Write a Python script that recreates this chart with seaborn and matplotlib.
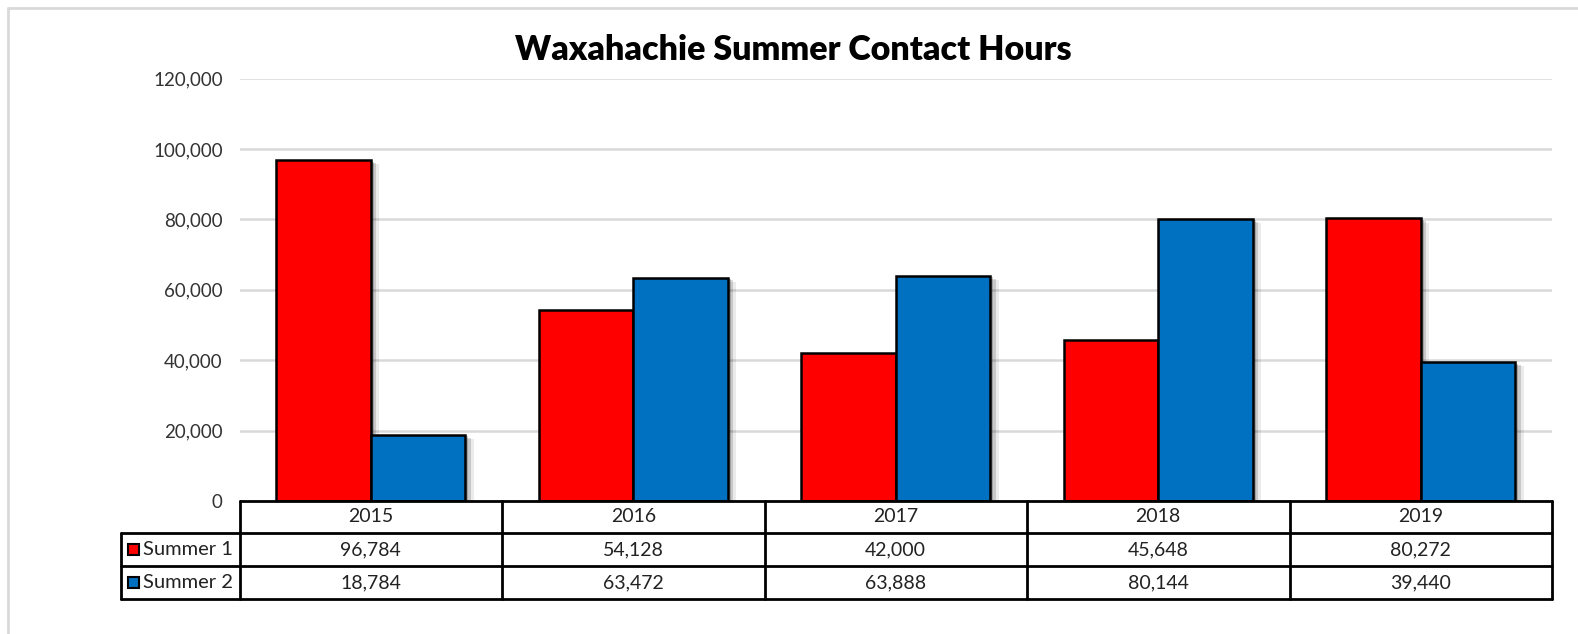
import matplotlib
matplotlib.use("Agg")
import matplotlib.pyplot as plt
import matplotlib.patheffects as pe
from matplotlib.patches import Rectangle
from matplotlib.lines import Line2D
import seaborn as sns
import pandas as pd

years = ["2015", "2016", "2017", "2018", "2019"]
series_names = ["Summer 1", "Summer 2"]
summer1 = [96784, 54128, 42000, 45648, 80272]
summer2 = [18784, 63472, 63888, 80144, 39440]
colors = ["#FF0000", "#0070C0"]
yticks = [0, 20000, 40000, 60000, 80000, 100000, 120000]

sns.set_theme(style="white")
plt.rcParams["font.family"] = ["Lato", "DejaVu Sans"]

W, H = 1578, 634
fig = plt.figure(figsize=(W / 100, H / 100), dpi=100)

def fx(x):
    return x / W

def fy(y):
    return 1 - y / H

# outer light border (top and left visible)
fig.add_artist(Line2D([fx(8), 1], [fy(8), fy(8)], color="#D9D9D9", lw=2, transform=fig.transFigure))
fig.add_artist(Line2D([fx(8), fx(8)], [fy(8), 0], color="#D9D9D9", lw=2, transform=fig.transFigure))

left, right, top, bottom = 239.5, 1552, 78.5, 501
ax = fig.add_axes([fx(left), fy(bottom), fx(right - left), fy(top) - fy(bottom)])

df = pd.DataFrame({
    "Year": years * 2,
    "Series": [series_names[0]] * len(years) + [series_names[1]] * len(years),
    "Hours": summer1 + summer2,
})
sns.barplot(data=df, x="Year", y="Hours", hue="Series", palette=colors,
            width=0.72, edgecolor="black", linewidth=1.8, ax=ax, legend=False,
            saturation=1, zorder=3)
for p in ax.patches:
    p.set_path_effects([
        pe.SimplePatchShadow(offset=(6, -3), shadow_rgbFace="#000000", alpha=0.08),
        pe.SimplePatchShadow(offset=(4, -2), shadow_rgbFace="#000000", alpha=0.15),
        pe.SimplePatchShadow(offset=(2, -1), shadow_rgbFace="#000000", alpha=0.2),
        pe.Normal()])

ax.set_ylim(0, 120000)
ax.set_xlim(-0.5, len(years) - 0.5)
ax.set_yticks(yticks)
ax.set_yticklabels([f"{v:,}" for v in yticks], fontsize=13.5, color="#333333")
ax.tick_params(axis="y", length=0, pad=12)
ax.set_xticks([])
ax.set_xlabel("")
ax.set_ylabel("")
ax.yaxis.grid(True, color="#D9D9D9", lw=1.8, zorder=0)
ax.set_axisbelow(True)
for s in ax.spines.values():
    s.set_visible(False)

fig.text(fx(793), fy(50), "Waxahachie Summer Contact Hours", ha="center", va="center",
         fontsize=24.5, fontweight="heavy", color="black")

# data table
tab_left = 121
row_y = [501, 533, 566, 599]
colw = (right - left) / len(years)
lw = 2
def hline(x0, x1, y):
    fig.add_artist(Line2D([fx(x0), fx(x1)], [fy(y), fy(y)], color="black", lw=lw, transform=fig.transFigure))
def vline(x, y0, y1):
    fig.add_artist(Line2D([fx(x), fx(x)], [fy(y0), fy(y1)], color="black", lw=lw, transform=fig.transFigure))

hline(left, right, row_y[0])
for y in row_y[1:]:
    hline(tab_left, right, y)
vline(tab_left, row_y[1], row_y[3])
for i in range(len(years) + 1):
    vline(left + i * colw, row_y[0], row_y[3])

for i, yr in enumerate(years):
    cx = left + (i + 0.5) * colw
    fig.text(fx(cx), fy((row_y[0] + row_y[1]) / 2), yr, ha="center", va="center", fontsize=14, color="#222222")
    for r, vals in enumerate([summer1, summer2]):
        fig.text(fx(cx), fy((row_y[r + 1] + row_y[r + 2]) / 2), f"{vals[i]:,}",
                 ha="center", va="center", fontsize=14, color="#222222")

for r, (name, c) in enumerate(zip(series_names, colors)):
    yc = (row_y[r + 1] + row_y[r + 2]) / 2
    fig.add_artist(Rectangle((fx(128), fy(yc + 5.5)), fx(11), fy(0) - fy(11), facecolor=c,
                             edgecolor="black", lw=1.5, transform=fig.transFigure))
    fig.text(fx(143), fy(yc), name, ha="left", va="center", fontsize=14.5, color="#222222")

fig.savefig("out.png", dpi=100)
